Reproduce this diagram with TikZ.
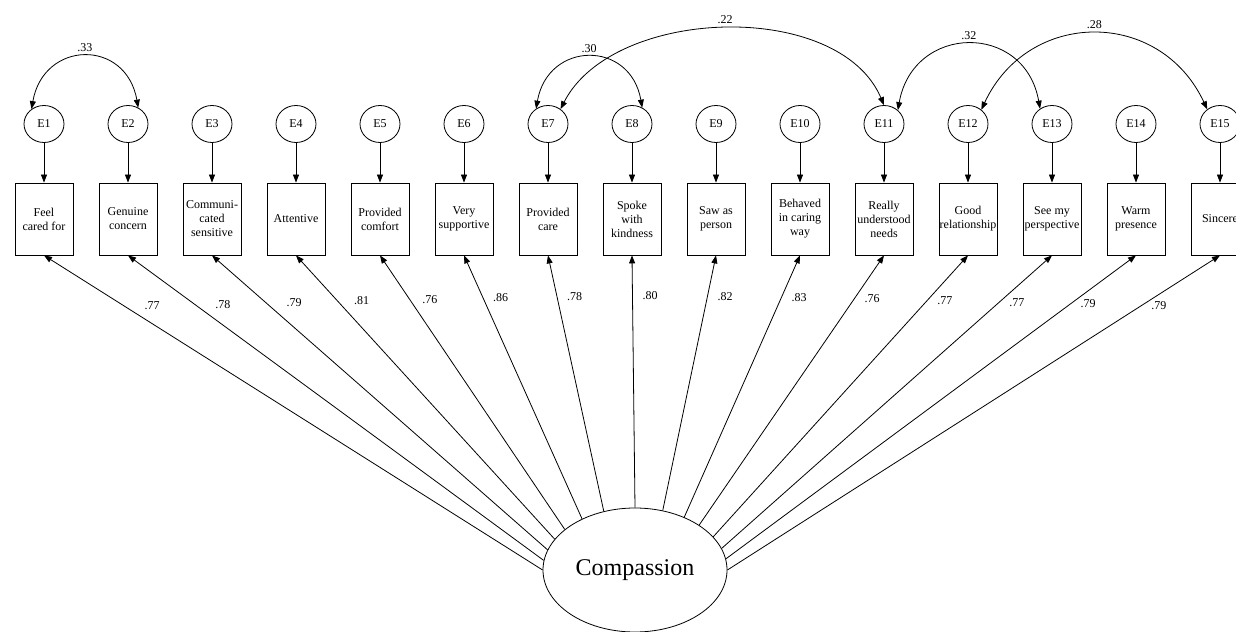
\documentclass[tikz,border=0pt]{standalone}
\usepackage{fontspec}
\setmainfont{Liberation Serif}
\usetikzlibrary{arrows.meta, positioning, shapes.geometric}

\tikzset{
  >={Triangle[length=6pt,width=4.5pt]},
  obs/.style={draw, rectangle, minimum width=43.5pt, minimum height=54pt,
    inner sep=0pt, align=center, font=\fontsize{9}{10.5}\selectfont},
  err/.style={draw, ellipse, minimum width=30pt, minimum height=27.75pt,
    inner sep=0pt, font=\fontsize{9}{10.5}\selectfont},
  latent/.style={draw, ellipse, minimum width=138pt, minimum height=93pt,
    font=\fontsize{18}{21}\selectfont},
  loading/.style={pos=0.84, right=4pt, font=\fontsize{9}{10.5}\selectfont},
  covlabel/.style={midway, above, font=\fontsize{9}{10.5}\selectfont}
}

\begin{document}
\begin{tikzpicture}[node distance=63pt, line width=0.6pt]
\useasboundingbox (-33pt,-309.75pt) rectangle (894pt,164.25pt);

% observed items
\node (b1) [obs] {Feel\\cared for};
\node (b2) [obs, right of=b1] {Genuine\\concern};
\node (b3) [obs, right of=b2] {Communi-\\cated\\sensitive};
\node (b4) [obs, right of=b3] {Attentive};
\node (b5) [obs, right of=b4] {Provided\\comfort};
\node (b6) [obs, right of=b5] {Very\\supportive};
\node (b7) [obs, right of=b6] {Provided\\care};
\node (b8) [obs, right of=b7] {Spoke\\with\\kindness};
\node (b9) [obs, right of=b8] {Saw as\\person};
\node (b10) [obs, right of=b9] {Behaved\\in caring\\way};
\node (b11) [obs, right of=b10] {Really\\understood\\needs};
\node (b12) [obs, right of=b11] {Good\\relationship};
\node (b13) [obs, right of=b12] {See my\\perspective};
\node (b14) [obs, right of=b13] {Warm\\presence};
\node (b15) [obs, right of=b14] {Sincere};

% error terms
\node (e1) [err, node distance=71.25pt, above of=b1] {E1};
\node (e2) [err, node distance=71.25pt, above of=b2] {E2};
\node (e3) [err, node distance=71.25pt, above of=b3] {E3};
\node (e4) [err, node distance=71.25pt, above of=b4] {E4};
\node (e5) [err, node distance=71.25pt, above of=b5] {E5};
\node (e6) [err, node distance=71.25pt, above of=b6] {E6};
\node (e7) [err, node distance=71.25pt, above of=b7] {E7};
\node (e8) [err, node distance=71.25pt, above of=b8] {E8};
\node (e9) [err, node distance=71.25pt, above of=b9] {E9};
\node (e10) [err, node distance=71.25pt, above of=b10] {E10};
\node (e11) [err, node distance=71.25pt, above of=b11] {E11};
\node (e12) [err, node distance=71.25pt, above of=b12] {E12};
\node (e13) [err, node distance=71.25pt, above of=b13] {E13};
\node (e14) [err, node distance=71.25pt, above of=b14] {E14};
\node (e15) [err, node distance=71.25pt, above of=b15] {E15};

\node (C) [latent] at (443.25pt,-263.25pt) {Compassion};

\draw[->] (e1) -- (b1);
\draw[->] (e2) -- (b2);
\draw[->] (e3) -- (b3);
\draw[->] (e4) -- (b4);
\draw[->] (e5) -- (b5);
\draw[->] (e6) -- (b6);
\draw[->] (e7) -- (b7);
\draw[->] (e8) -- (b8);
\draw[->] (e9) -- (b9);
\draw[->] (e10) -- (b10);
\draw[->] (e11) -- (b11);
\draw[->] (e12) -- (b12);
\draw[->] (e13) -- (b13);
\draw[->] (e14) -- (b14);
\draw[->] (e15) -- (b15);

% loadings
\draw[->] (C.180) -- (b1.south) node[loading, xshift=8pt] {.77};
\draw[->] (C.174) -- (b2.south) node[loading, xshift=8pt] {.78};
\draw[->] (C.167) -- (b3.south) node[loading, xshift=8pt] {.79};
\draw[->] (C.159) -- (b4.south) node[loading, xshift=5pt] {.81};
\draw[->] (C.150) -- (b5.south) node[loading, xshift=2pt] {.76};
\draw[->] (C.136) -- (b6.south) node[loading] {.86};
\draw[->] (C.118) -- (b7.south) node[loading] {.78};
\draw[->] (C.90) -- (b8.south) node[loading] {.80};
\draw[->] (C.65) -- (b9.south) node[loading] {.82};
\draw[->] (C.47) -- (b10.south) node[loading] {.83};
\draw[->] (C.35) -- (b11.south) node[loading] {.76};
\draw[->] (C.23) -- (b12.south) node[loading] {.77};
\draw[->] (C.14) -- (b13.south) node[loading] {.77};
\draw[->] (C.7) -- (b14.south) node[loading] {.79};
\draw[->] (C.0) -- (b15.south) node[loading] {.79};

% correlated errors
\draw[<->] (e1.130) to[out=80, in=100, looseness=1.68] node[covlabel] {.33} (e2.58);
\draw[<->] (e7.128) to[out=80, in=100, looseness=1.66] node[covlabel] {.30} (e8.58);
\draw[<->] (e7.50) to[out=63, in=113, looseness=0.91] node[covlabel] {.22} (e11.90);
\draw[<->] (e11.45) to[out=80, in=100, looseness=1.58] node[covlabel] {.32} (e13.128);
\draw[<->] (e12.47) to[out=65, in=115, looseness=1.26] node[covlabel] {.28} (e15.131);
\end{tikzpicture}
\end{document}
